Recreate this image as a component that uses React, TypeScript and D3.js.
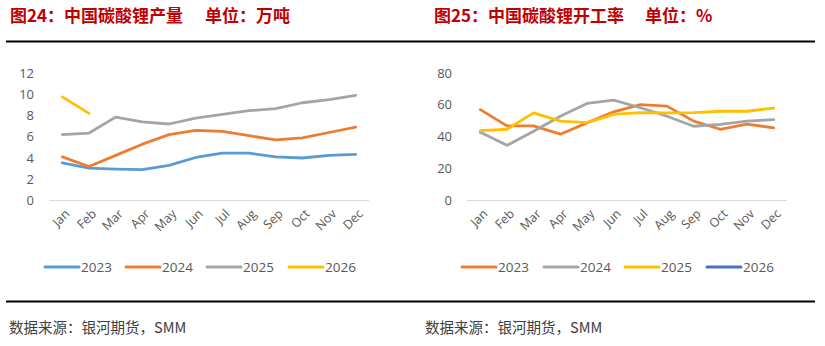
import React from "react";
import * as d3 from "d3";

const months = ["Jan","Feb","Mar","Apr","May","Jun","Jul","Aug","Sep","Oct","Nov","Dec"];

// Left: production (万吨)
const leftYears = ["2023","2024","2025","2026"];
const prod2023 = [3.55,3.05,2.95,2.9,3.3,4.05,4.45,4.45,4.1,4.0,4.25,4.35];
const prod2024 = [4.1,3.2,4.25,5.3,6.2,6.6,6.5,6.1,5.7,5.9,6.4,6.9];
const prod2025 = [6.2,6.35,7.85,7.4,7.2,7.75,8.1,8.45,8.65,9.2,9.5,9.9];
const prod2026 = [9.75,8.2];
const leftTicks = [0,2,4,6,8,10,12];

// Right: operating rate (%)
const rightYears = ["2023","2024","2025","2026"];
const rate2023 = [57,46.8,46.8,41.6,48.7,55.6,60.2,59.2,49.8,44.7,47.9,45.6];
const rate2024 = [42.8,34.6,43.5,52.9,60.9,63,58.2,52.9,46.6,47.7,49.8,50.8];
const rate2025 = [43.9,44.7,55,49.8,48.9,54,55.2,55,55.2,56,56,58];
const rate2026: number[] = [];
const rightTicks = [0,20,40,60,80];

const leftColors = ["#5b9bd5","#ed7d31","#a5a5a5","#ffc000"];
const rightColors = ["#ed7d31","#a5a5a5","#ffc000","#4472c4"];

const CJK = "'Noto Sans CJK SC', 'Noto Sans', sans-serif";
const LAT = "'Open Sans', 'Noto Sans', sans-serif";

type PanelProps = {
  x0: number; lineEnd: number; titleX: number; title: string; unitX: number; unit: string;
  plotL: number; series: number[][]; years: string[]; colors: string[];
  yMax: number; ticks: number[]; legendX: number[]; srcX: number;
};

function Panel(p: PanelProps) {
  const plotTop = 73, plotBottom = 200.5, plotW = 320;
  const x = d3.scaleBand<string>().domain(months).range([p.plotL, p.plotL + plotW]);
  const y = d3.scaleLinear().domain([0, p.yMax]).range([plotBottom, plotTop]);
  const line = d3.line<number>()
    .x((_, i) => (x(months[i]) as number) + x.bandwidth() / 2)
    .y((v) => y(v));
  return (
    <g>
      <text x={p.titleX} y={21.5} fill="#c00000" fontSize={17} fontWeight="bold" fontFamily={CJK}>{p.title}</text>
      <text x={p.unitX} y={21.5} fill="#c00000" fontSize={17} fontWeight="bold" fontFamily={CJK}>{p.unit}</text>
      <line x1={p.x0} x2={p.lineEnd} y1={41.5} y2={41.5} stroke="#000" strokeWidth={2} />
      {p.ticks.map((t) => (
        <text key={t} x={p.plotL - 15} y={y(t)} dy="0.35em" textAnchor="end" fontSize={13} fill="#595959" fontFamily={LAT}>{t}</text>
      ))}
      <line x1={p.plotL} x2={p.plotL + plotW} y1={plotBottom} y2={plotBottom} stroke="#d9d9d9" strokeWidth={1.2} />
      {months.map((m) => {
        const cx = (x(m) as number) + x.bandwidth() / 2;
        return (
          <text key={m} transform={`translate(${cx + 5},${plotBottom + 11}) rotate(-45)`} textAnchor="end" dy="0.35em" fontSize={12.5} fill="#595959" fontFamily={LAT}>{m}</text>
        );
      })}
      {p.series.map((s, i) => s.length > 0 ? (
        <path key={i} d={line(s) || ""} fill="none" stroke={p.colors[i]} strokeWidth={2.8} strokeLinejoin="round" strokeLinecap="round" />
      ) : null)}
      {p.years.map((yr, i) => (
        <g key={yr}>
          <line x1={p.legendX[i]} x2={p.legendX[i] + 34} y1={267} y2={267} stroke={p.colors[i]} strokeWidth={3} strokeLinecap="round" />
          <text x={p.legendX[i] + 36} y={267} dy="0.35em" fontSize={13.5} fill="#595959" fontFamily={LAT}>{yr}</text>
        </g>
      ))}
      <line x1={p.x0} x2={p.lineEnd} y1={301.5} y2={301.5} stroke="#000" strokeWidth={2} />
      <text x={p.srcX} y={328} dy="0.35em" fontSize={14.5} fill="#404040" fontFamily={CJK}>数据来源：银河期货，SMM</text>
    </g>
  );
}

export default function App() {
  return (
    <svg width={825} height={346} style={{ position: "absolute", left: 0, top: 0, background: "#fff" }}>
      <rect width={825} height={346} fill="#fff" />
      <Panel x0={6} lineEnd={412} titleX={10} title="图24：中国碳酸锂产量" unitX={205} unit="单位：万吨"
        plotL={49} series={[prod2023, prod2024, prod2025, prod2026]} years={leftYears} colors={leftColors}
        yMax={12} ticks={leftTicks} legendX={[45,126,207,289]} srcX={9} />
      <Panel x0={412} lineEnd={815} titleX={434} title="图25：中国碳酸锂开工率" unitX={645} unit="单位：%"
        plotL={467} series={[rate2023, rate2024, rate2025, rate2026]} years={rightYears} colors={rightColors}
        yMax={80} ticks={rightTicks} legendX={[462,544,625,707]} srcX={425} />
    </svg>
  );
}
